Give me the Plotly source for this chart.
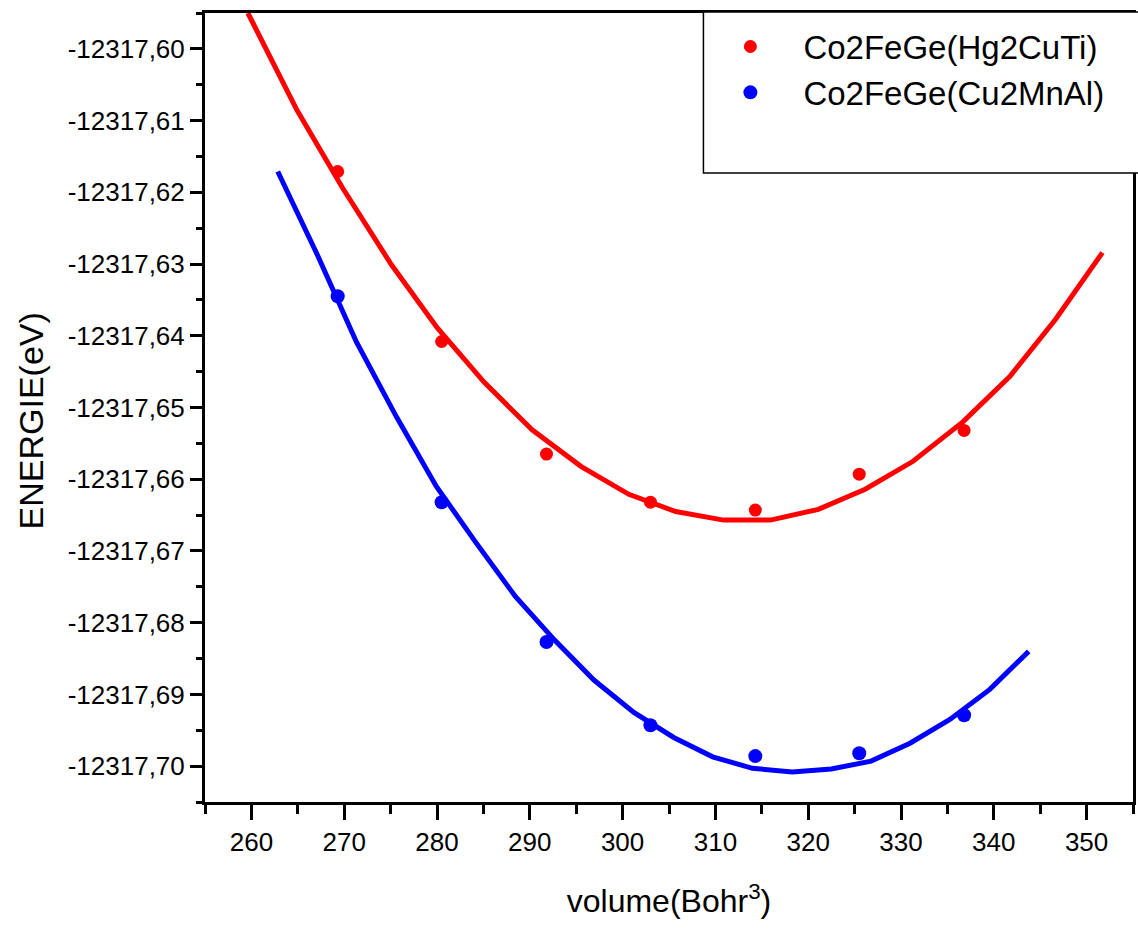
import plotly.graph_objects as go

# Measured points
vol_pts = [269.3, 280.5, 291.8, 303.0, 314.3, 325.5, 336.8]
e_hg2cuti = [-12317.6171, -12317.6408, -12317.6565, -12317.6632, -12317.6643, -12317.6593, -12317.6532]
e_cu2mnal = [-12317.6345, -12317.6632, -12317.6827, -12317.6943, -12317.6986, -12317.6982, -12317.6929]

# Fitted curves
fit_vol_hg = [259.62, 264.89, 269.83, 275.09, 280.04, 285.09, 290.25, 295.51, 300.67, 305.72,
              310.88, 315.93, 321.09, 326.14, 331.30, 336.67, 341.72, 346.66, 351.71]
fit_e_hg = [-12317.5950, -12317.6085, -12317.6194, -12317.6301, -12317.6389, -12317.6465,
            -12317.6531, -12317.6582, -12317.6621, -12317.6645, -12317.6657, -12317.6657,
            -12317.6642, -12317.6614, -12317.6575, -12317.6520, -12317.6457, -12317.6377,
            -12317.6284]

fit_vol_cu = [262.84, 267.14, 271.33, 275.63, 279.93, 284.12, 288.42, 292.72, 296.91, 301.21,
              305.51, 309.70, 313.99, 318.29, 322.48, 326.78, 330.97, 335.27, 339.57, 343.76]
fit_e_cu = [-12317.6171, -12317.6288, -12317.6409, -12317.6513, -12317.6610, -12317.6687,
            -12317.6763, -12317.6825, -12317.6880, -12317.6925, -12317.6960, -12317.6987,
            -12317.7003, -12317.7008, -12317.7004, -12317.6993, -12317.6968, -12317.6935,
            -12317.6893, -12317.6840]

# Tick labels
y_tickvals = [-12317.60, -12317.61, -12317.62, -12317.63, -12317.64, -12317.65,
              -12317.66, -12317.67, -12317.68, -12317.69, -12317.70]
y_ticktext = ["-12317,60", "-12317,61", "-12317,62", "-12317,63", "-12317,64", "-12317,65",
              "-12317,66", "-12317,67", "-12317,68", "-12317,69", "-12317,70"]
x_tickvals = [260, 270, 280, 290, 300, 310, 320, 330, 340, 350]

names = ["Co2FeGe(Hg2CuTi)", "Co2FeGe(Cu2MnAl)"]
colors = ["#ff0000", "#0000ff"]

FONT = "Liberation Sans, Arial, sans-serif"

fig = go.Figure()
fig.add_trace(go.Scatter(x=fit_vol_hg, y=fit_e_hg, mode="lines",
                         line=dict(color=colors[0], width=5), showlegend=False))
fig.add_trace(go.Scatter(x=fit_vol_cu, y=fit_e_cu, mode="lines",
                         line=dict(color=colors[1], width=5), showlegend=False))
fig.add_trace(go.Scatter(x=vol_pts, y=e_hg2cuti, mode="markers", name=names[0],
                         marker=dict(color=colors[0], size=13)))
fig.add_trace(go.Scatter(x=vol_pts, y=e_cu2mnal, mode="markers", name=names[1],
                         marker=dict(color=colors[1], size=14)))

fig.update_layout(
    width=1138, height=929,
    margin=dict(l=205, r=2, t=13, b=127),
    paper_bgcolor="white", plot_bgcolor="white",
    font=dict(family=FONT, color="black", size=26),
    showlegend=True,
    legend=dict(x=0.5306, y=0.993, xanchor="left", yanchor="top",
                bgcolor="rgba(0,0,0,0)", borderwidth=0,
                font=dict(size=33, family=FONT), itemwidth=96),
    shapes=[dict(type="rect", xref="paper", yref="paper",
                 x0=0.5371, x1=1.01, y0=0.7972, y1=1.0013,
                 line=dict(color="black", width=1.5), fillcolor="white", layer="above")],
    annotations=[dict(text="ENERGIE(eV)", textangle=-90, xref="paper", yref="paper",
                      x=-0.188, y=0.483, xanchor="center", yanchor="middle",
                      showarrow=False, font=dict(size=34, family=FONT, color="black"))],
)

fig.update_xaxes(
    range=[255, 355], tickvals=x_tickvals,
    showline=True, linecolor="black", linewidth=3, mirror=True,
    ticks="outside", ticklen=15, tickwidth=2.5, tickcolor="black",
    minor=dict(dtick=5, ticks="outside", ticklen=9, tickwidth=2.5, tickcolor="black"),
    showgrid=False, zeroline=False,
    tickfont=dict(size=26, family=FONT),
    title=dict(text="volume(Bohr<sup>3</sup>)", font=dict(size=32, family=FONT), standoff=34),
)
fig.update_yaxes(
    range=[-12317.705, -12317.595], tickvals=y_tickvals, ticktext=y_ticktext,
    showline=True, linecolor="black", linewidth=3, mirror=True,
    ticks="outside", ticklen=12, tickwidth=2.5, tickcolor="black",
    minor=dict(dtick=0.005, tick0=-12317.60, ticks="outside", ticklen=6, tickwidth=2.5,
               tickcolor="black"),
    showgrid=False, zeroline=False,
    tickfont=dict(size=26, family=FONT),
)

fig.write_html("out.html")
